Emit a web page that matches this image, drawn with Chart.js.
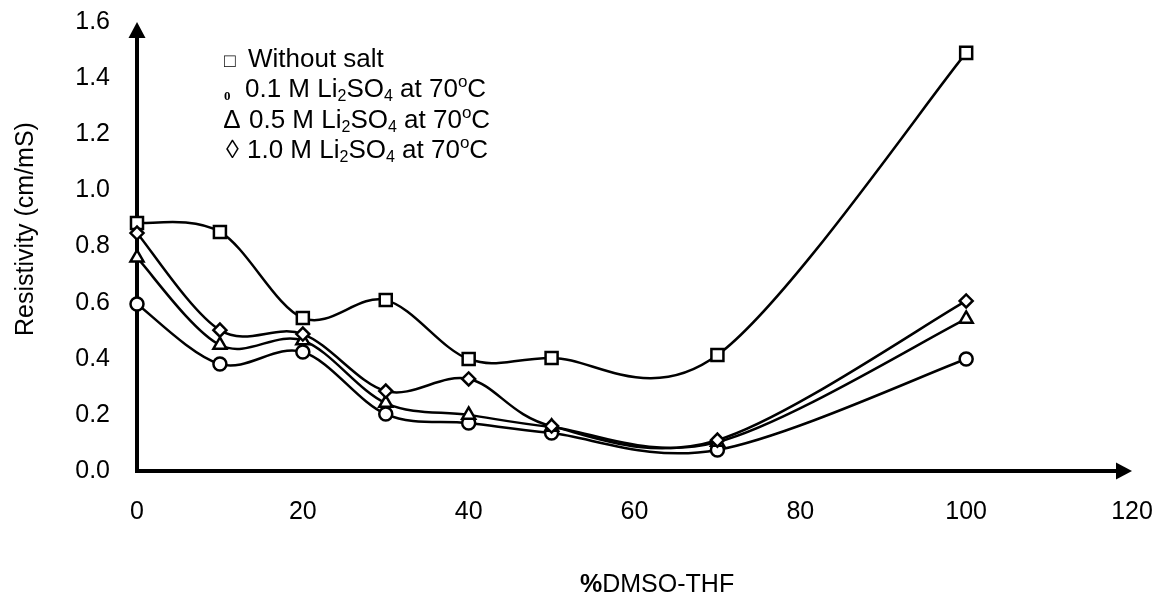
<!DOCTYPE html>
<html>
<head>
<meta charset="utf-8">
<script src="https://cdn.jsdelivr.net/npm/chart.js@4.4.1/dist/chart.umd.min.js"></script>
<style>
  html, body { margin: 0; padding: 0; background: #fff; }
  #wrap { width: 1165px; height: 598px; position: relative; }
</style>
</head>
<body>
<div id="wrap"><canvas id="c" width="1165" height="598"></canvas></div>
<script>
// ---- data ----
const dmsoPercent   = [0, 10, 20, 30, 40, 50, 70, 100];
const withoutSalt   = [0.884, 0.852, 0.545, 0.609, 0.399, 0.403, 0.413, 1.490];
const li2so4_01M    = [0.595, 0.381, 0.424, 0.203, 0.171, 0.135, 0.075, 0.399];
const li2so4_05M    = [0.760, 0.449, 0.465, 0.242, 0.200, 0.157, 0.103, 0.542];
const li2so4_10M    = [0.848, 0.502, 0.488, 0.285, 0.328, 0.160, 0.110, 0.606];
const xTickValues   = [0, 20, 40, 60, 80, 100, 120];
const yTickValues   = [0.0, 0.2, 0.4, 0.6, 0.8, 1.0, 1.2, 1.4, 1.6];
const xAxisTitle    = '%DMSO-THF';
const yAxisTitle    = 'Resistivity (cm/mS)';

const FONT = '"Liberation Sans", Arial, sans-serif';

function pts(ys) { return dmsoPercent.map((x, i) => ({ x: x, y: ys[i] })); }

function ds(label, ys, style, radius, order) {
  return {
    label: label,
    data: pts(ys),
    borderColor: '#000',
    borderWidth: 2.5,
    backgroundColor: '#fff',
    pointStyle: style,
    pointRadius: radius,
    pointBorderWidth: 2.5,
    pointBorderColor: '#000',
    pointBackgroundColor: '#fff',
    tension: 0.4,
    fill: false,
    clip: false,
    order: order
  };
}

// Spreadsheet-style smoothing: control points = P +/- (Pnext - Pprev)/6,
// computed from the pixel positions the library assigned to each point.
function applySmoothing(chart) {
  chart.data.datasets.forEach((d, i) => {
    const meta = chart.getDatasetMeta(i);
    const el = meta.data;
    const n = el.length;
    for (let k = 0; k < n; k++) {
      const p = el[k];
      const prev = el[Math.max(k - 1, 0)];
      const next = el[Math.min(k + 1, n - 1)];
      const dx = (next.x - prev.x) / 6, dy = (next.y - prev.y) / 6;
      p.cp1x = p.x - dx; p.cp1y = p.y - dy;
      p.cp2x = p.x + dx; p.cp2y = p.y + dy;
    }
    if (meta.dataset) { meta.dataset._pointsUpdated = true; meta.dataset._path = undefined; }
  });
}
const smoothPlugin = {
  id: 'sheetSmooth',
  afterDatasetsUpdate(chart) { applySmoothing(chart); },
  beforeDatasetsDraw(chart) { applySmoothing(chart); }
};

const axesPlugin = {
  id: 'axesArrows',
  beforeDatasetsDraw(chart) {
    const ctx = chart.ctx, a = chart.chartArea;
    ctx.save();
    ctx.strokeStyle = '#000';
    ctx.lineWidth = 4;
    ctx.lineJoin = 'miter';
    ctx.lineCap = 'butt';
    ctx.beginPath();
    ctx.moveTo(a.left, a.top + 10);
    ctx.lineTo(a.left, a.bottom);
    ctx.lineTo(a.right - 10, a.bottom);
    ctx.stroke();
    ctx.fillStyle = '#000';
    ctx.beginPath();
    ctx.moveTo(a.left, a.top);
    ctx.lineTo(a.left - 8.5, a.top + 16);
    ctx.lineTo(a.left + 8.5, a.top + 16);
    ctx.closePath();
    ctx.fill();
    ctx.beginPath();
    ctx.moveTo(a.right, a.bottom);
    ctx.lineTo(a.right - 16, a.bottom - 8.5);
    ctx.lineTo(a.right - 16, a.bottom + 8.5);
    ctx.closePath();
    ctx.fill();
    ctx.restore();
  }
};

function drawRich(ctx, x, y, parts, base) {
  base = base || 26;
  let cx = x;
  parts.forEach(p => {
    const kind = p[1] || 'n';
    let size = base, dy = 0;
    if (kind === 'sub') { size = 16; dy = 4; }
    if (kind === 'sup') { size = 17; dy = -10; }
    ctx.font = (p[2] ? p[2] + ' ' : '') + size + 'px ' + FONT;
    ctx.fillText(p[0], cx, y + dy);
    cx += ctx.measureText(p[0]).width;
  });
}

const textPlugin = {
  id: 'texts',
  afterDraw(chart) {
    const ctx = chart.ctx;
    ctx.save();
    ctx.fillStyle = '#000';
    ctx.textBaseline = 'alphabetic';
    ctx.textAlign = 'left';

    ctx.font = '19px ' + FONT;
    ctx.fillText('\u25A1', 224, 67);
    drawRich(ctx, 248, 67, [['Without salt']]);

    ctx.font = 'bold 13px "Liberation Serif", serif';
    ctx.fillText('0', 224, 100);
    drawRich(ctx, 245, 97, [['0.1 M Li'], ['2', 'sub'], ['SO'], ['4', 'sub'], [' at 70'], ['o', 'sup'], ['C']]);

    ctx.font = '26px ' + FONT;
    ctx.fillText('\u2206', 224, 128);
    drawRich(ctx, 249, 128, [['0.5 M Li'], ['2', 'sub'], ['SO'], ['4', 'sub'], [' at 70'], ['o', 'sup'], ['C']]);

    ctx.font = '26px ' + FONT;
    ctx.fillText('\u25CA', 226, 158);
    drawRich(ctx, 247, 158, [['1.0 M Li'], ['2', 'sub'], ['SO'], ['4', 'sub'], [' at 70'], ['o', 'sup'], ['C']]);

    drawRich(ctx, 580, 592, [[xAxisTitle.slice(0, 1), 'n', 'bold'], [xAxisTitle.slice(1)]], 25);

    ctx.translate(33, 229);
    ctx.rotate(-Math.PI / 2);
    ctx.textAlign = 'center';
    ctx.font = '25px ' + FONT;
    ctx.fillText(yAxisTitle, 0, 0);
    ctx.restore();
  }
};

new Chart(document.getElementById('c'), {
  type: 'line',
  data: {
    datasets: [
      ds('Without salt', withoutSalt, 'rect', 8.5, 4),
      ds('0.1 M Li2SO4 at 70oC', li2so4_01M, 'circle', 6.5, 3),
      ds('0.5 M Li2SO4 at 70oC', li2so4_05M, 'triangle', 7.5, 2),
      ds('1.0 M Li2SO4 at 70oC', li2so4_10M, 'rectRot', 6.5, 1)
    ]
  },
  options: {
    responsive: false,
    devicePixelRatio: 1,
    animation: false,
    layout: { padding: { top: 22, right: 33, left: 0, bottom: 0 } },
    plugins: { legend: { display: false }, tooltip: { enabled: false } },
    scales: {
      x: {
        type: 'linear',
        min: xTickValues[0],
        max: xTickValues[xTickValues.length - 1],
        afterBuildTicks: s => { s.ticks = xTickValues.map(v => ({ value: v })); },
        afterFit: s => { s.height = 127; s.paddingLeft = 0; s.paddingRight = 0; },
        grid: { display: false, drawTicks: false },
        border: { display: false },
        ticks: { color: '#000', font: { family: FONT, size: 25 }, padding: 26, maxRotation: 0, autoSkip: false }
      },
      y: {
        type: 'linear',
        min: yTickValues[0],
        max: yTickValues[yTickValues.length - 1],
        afterBuildTicks: s => { s.ticks = yTickValues.map(v => ({ value: v })); },
        afterFit: s => { s.width = 137; s.paddingTop = 0; s.paddingBottom = 0; },
        grid: { display: false, drawTicks: false },
        border: { display: false },
        ticks: { color: '#000', font: { family: FONT, size: 25 }, padding: 27, autoSkip: false,
                 callback: v => Number(v).toFixed(1) }
      }
    }
  },
  plugins: [smoothPlugin, axesPlugin, textPlugin]
});
</script>
</body>
</html>
